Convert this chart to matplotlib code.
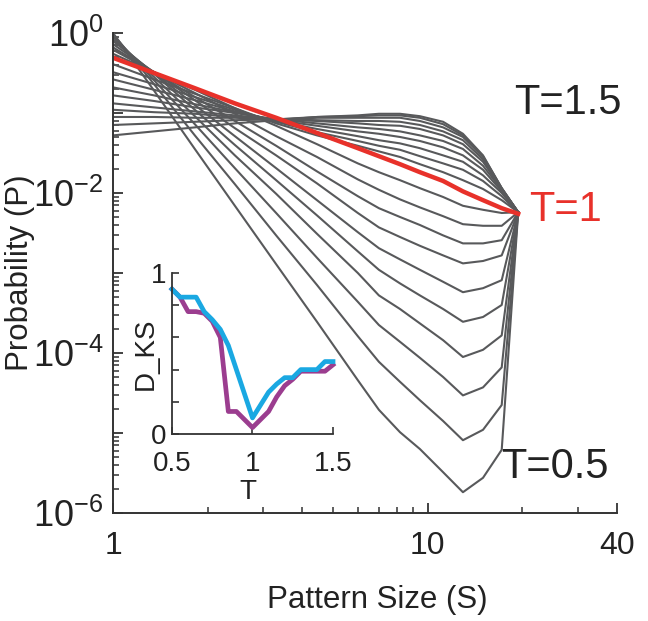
import numpy as np
import matplotlib
matplotlib.use("Agg")
import matplotlib.pyplot as plt
from matplotlib.ticker import FixedLocator, FixedFormatter, LogLocator, NullFormatter

plt.rcParams["font.family"] = ["Liberation Sans", "DejaVu Sans"]
plt.rcParams["mathtext.fontset"] = "custom"
plt.rcParams["mathtext.rm"] = "Liberation Sans"
plt.rcParams["mathtext.it"] = "Liberation Sans:italic"
plt.rcParams["mathtext.bf"] = "Liberation Sans:bold"

# pattern sizes (log-binned)
sizes = [1.0, 1.35, 1.82, 2.44, 3.3, 4.45, 6.0, 7.0, 8.17, 9.45, 11.2, 12.95, 15.0, 17.2, 19.4]

# log10 P(S), sub-critical curves T = 0.5 ... 0.95
low_T_logp = [
    [0.0, -0.72, -1.45, -2.16, -2.89, -3.61, -4.34, -4.71, -4.99, -5.20, -5.49, -5.74, -5.56, -5.21, -2.25],
    [-0.01, -0.64, -1.28, -1.89, -2.53, -3.15, -3.79, -4.11, -4.36, -4.59, -4.85, -5.09, -4.96, -4.65, -2.24],
    [-0.03, -0.59, -1.14, -1.69, -2.25, -2.81, -3.36, -3.65, -3.86, -4.06, -4.30, -4.53, -4.43, -4.18, -2.24],
    [-0.05, -0.55, -1.04, -1.53, -2.01, -2.51, -3.00, -3.28, -3.45, -3.63, -3.84, -4.05, -3.96, -3.78, -2.24],
    [-0.08, -0.51, -0.96, -1.40, -1.84, -2.28, -2.73, -2.96, -3.13, -3.28, -3.45, -3.61, -3.55, -3.40, -2.24],
    [-0.10, -0.50, -0.90, -1.29, -1.69, -2.09, -2.49, -2.69, -2.83, -2.96, -3.11, -3.24, -3.19, -3.09, -2.24],
    [-0.14, -0.49, -0.84, -1.19, -1.53, -1.88, -2.25, -2.43, -2.55, -2.66, -2.78, -2.88, -2.85, -2.78, -2.24],
    [-0.18, -0.49, -0.80, -1.10, -1.41, -1.73, -2.04, -2.19, -2.30, -2.40, -2.53, -2.63, -2.63, -2.59, -2.24],
    [-0.21, -0.49, -0.75, -1.01, -1.29, -1.55, -1.83, -1.96, -2.08, -2.18, -2.29, -2.39, -2.41, -2.41, -2.24],
    [-0.26, -0.49, -0.71, -0.94, -1.16, -1.39, -1.63, -1.74, -1.84, -1.94, -2.05, -2.16, -2.21, -2.25, -2.24],
]

# critical curve T = 1
critical_logp = [-0.31, -0.50, -0.69, -0.88, -1.06, -1.25, -1.44, -1.54, -1.64, -1.74, -1.85, -1.98, -2.09, -2.19, -2.26]

# super-critical curves T = 1.05 ... 1.5
high_T_logp = [
    [-0.39, -0.58, -0.76, -0.94, -1.13, -1.28, -1.41, -1.48, -1.55, -1.64, -1.74, -1.84, -1.95, -2.09, -2.24],
    [-0.49, -0.64, -0.80, -0.96, -1.11, -1.24, -1.35, -1.41, -1.46, -1.54, -1.63, -1.71, -1.85, -2.04, -2.24],
    [-0.58, -0.71, -0.84, -0.98, -1.10, -1.20, -1.29, -1.34, -1.38, -1.44, -1.53, -1.61, -1.78, -2.00, -2.24],
    [-0.68, -0.78, -0.89, -0.99, -1.09, -1.16, -1.23, -1.26, -1.30, -1.35, -1.43, -1.53, -1.71, -1.98, -2.24],
    [-0.78, -0.85, -0.93, -1.00, -1.08, -1.13, -1.18, -1.20, -1.23, -1.28, -1.35, -1.45, -1.66, -1.96, -2.24],
    [-0.88, -0.93, -0.98, -1.03, -1.08, -1.10, -1.13, -1.15, -1.16, -1.20, -1.28, -1.39, -1.61, -1.95, -2.24],
    [-0.96, -0.99, -1.01, -1.05, -1.08, -1.09, -1.10, -1.10, -1.11, -1.15, -1.23, -1.34, -1.58, -1.95, -2.24],
    [-1.05, -1.05, -1.06, -1.06, -1.08, -1.06, -1.06, -1.06, -1.06, -1.10, -1.18, -1.30, -1.55, -1.94, -2.24],
    [-1.15, -1.13, -1.11, -1.09, -1.08, -1.05, -1.04, -1.03, -1.03, -1.06, -1.14, -1.28, -1.54, -1.94, -2.24],
    [-1.28, -1.23, -1.18, -1.13, -1.09, -1.05, -1.03, -1.01, -1.01, -1.04, -1.11, -1.26, -1.53, -1.94, -2.24],
]

# inset: KS distance vs temperature
temps = [0.5, 0.55, 0.6, 0.65, 0.7, 0.75, 0.8, 0.85, 0.9, 0.95, 1.0,
         1.05, 1.1, 1.15, 1.2, 1.25, 1.3, 1.35, 1.4, 1.45, 1.5]
dks_purple = [0.90, 0.85, 0.76, 0.76, 0.75, 0.70, 0.60, 0.14, 0.14, 0.09, 0.04,
              0.09, 0.14, 0.23, 0.30, 0.34, 0.39, 0.39, 0.39, 0.39, 0.43]
dks_cyan = [0.90, 0.85, 0.85, 0.85, 0.76, 0.71, 0.65, 0.55, 0.40, 0.25, 0.10,
            0.18, 0.26, 0.31, 0.35, 0.35, 0.40, 0.40, 0.40, 0.45, 0.45]

gray = "#58595b"
red = "#e8312a"
axis_col = "#333333"
txt = "#222222"

fig = plt.figure(figsize=(6.48, 6.21), dpi=100)
ax = fig.add_axes([0.1744, 0.1739, 0.7778, 0.773])

for row in low_T_logp + high_T_logp:
    ax.plot(sizes, 10 ** np.array(row), color=gray, lw=1.5)
ax.plot(sizes, 10 ** np.array(critical_logp), color=red, lw=3.2)

ax.set_xscale("log")
ax.set_yscale("log")
ax.set_xlim(1, 40)
ax.set_ylim(1e-6, 1)

for s in ["top", "right"]:
    ax.spines[s].set_visible(False)
for s in ["left", "bottom"]:
    ax.spines[s].set_color(axis_col)
    ax.spines[s].set_linewidth(1.4)

ax.xaxis.set_major_locator(FixedLocator([1, 10, 40]))
ax.xaxis.set_major_formatter(FixedFormatter(["1", "10", "40"]))
ax.xaxis.set_minor_locator(FixedLocator([2, 3, 4, 5, 6, 7, 8, 9, 20, 30]))
ax.xaxis.set_minor_formatter(NullFormatter())

ax.yaxis.set_major_locator(FixedLocator([1e-6, 1e-5, 1e-4, 1e-3, 1e-2, 1e-1, 1]))
ax.yaxis.set_major_formatter(FixedFormatter(
    [r"$10^{-6}$", "", r"$10^{-4}$", "", r"$10^{-2}$", "", r"$10^{0}$"]))
ax.yaxis.set_minor_locator(LogLocator(base=10, subs=np.arange(2, 10), numticks=20))
ax.yaxis.set_minor_formatter(NullFormatter())

ax.tick_params(which="major", direction="in", length=7, width=1.3, color=axis_col)
ax.tick_params(which="minor", direction="in", length=4, width=1.1, color=axis_col)
ax.tick_params(axis="x", labelsize=23, pad=13, labelcolor=txt)
ax.tick_params(axis="y", labelsize=26, pad=7, labelcolor=txt)

ax.set_xlabel("Pattern Size (S)", fontsize=22.5, color=txt)
ax.xaxis.set_label_coords(0.525, -0.15)
ax.set_ylabel("Probability (P)", fontsize=22.5, color=txt)
ax.yaxis.set_label_coords(-0.155, 0.5)

ax.text(27.9, 10 ** -0.875, "T=1.5", fontsize=30, ha="center", va="center", color=txt)
ax.text(27.5, 10 ** -2.21, "T=1", fontsize=30, ha="center", va="center", color=red)
ax.text(25.4, 10 ** -5.42, "T=0.5", fontsize=30, ha="center", va="center", color=txt)

# inset
ins = fig.add_axes([0.2654, 0.3011, 0.2485, 0.2593])
ins.patch.set_alpha(0)
ins.plot(temps, dks_purple, color="#9b3d8f", lw=3.4, clip_on=False)
ins.plot(temps, dks_cyan, color="#1aa8e2", lw=3.4, clip_on=False)
ins.set_xlim(0.5, 1.5)
ins.set_ylim(0, 1)
for s in ["top", "right"]:
    ins.spines[s].set_visible(False)
for s in ["left", "bottom"]:
    ins.spines[s].set_color(axis_col)
    ins.spines[s].set_linewidth(1.3)
ins.set_xticks([0.5, 1, 1.5])
ins.set_xticklabels(["0.5", "1", "1.5"])
ins.set_yticks([0, 0.2, 0.4, 0.6, 0.8, 1])
ins.set_yticklabels(["0", "", "", "", "", "1"])
ins.tick_params(direction="in", length=5, width=1.2, color=axis_col,
                labelsize=20, labelcolor=txt)
ins.tick_params(axis="x", pad=12)
ins.tick_params(axis="y", pad=4)
ins.set_xlabel("T", fontsize=20, color=txt)
ins.xaxis.set_label_coords(0.47, -0.28)
ins.set_ylabel("D_KS", fontsize=20, color=txt)
ins.yaxis.set_label_coords(-0.08, 0.5)

fig.savefig("out.png", dpi=100)
